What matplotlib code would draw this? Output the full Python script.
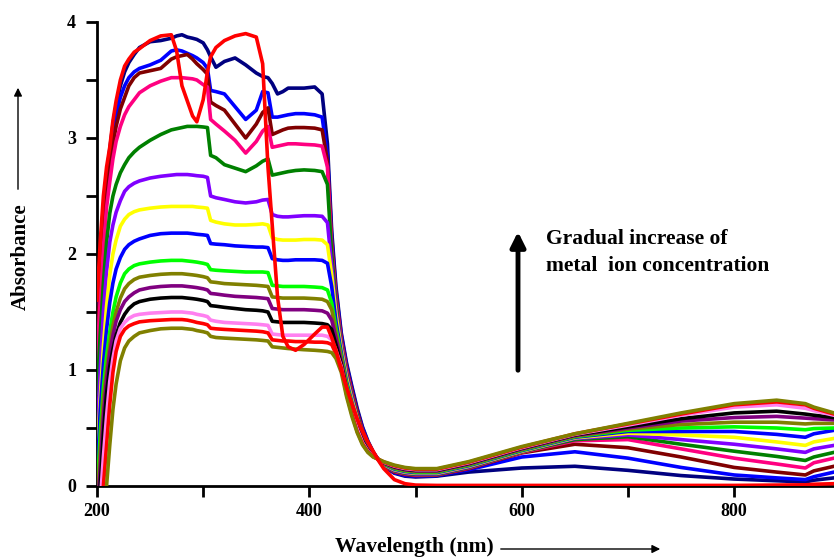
import matplotlib
matplotlib.use('Agg')
import matplotlib.pyplot as plt
from matplotlib.ticker import MultipleLocator

# ---------------- data ----------------
wavelength = [200, 203, 206, 209, 212, 215, 218, 222, 226, 230,
              235, 240, 250, 260, 270, 275, 280, 285, 290, 294,
              300, 304, 307, 312, 320, 330, 340, 350, 356, 361,
              365, 370, 375, 380, 387, 395, 405, 412, 417, 421,
              425, 430, 435, 440, 445, 450, 455, 460, 465, 470,
              480, 490, 500, 520, 550, 600, 650, 700, 750, 800,
              840, 867, 875, 894]

olive_1 = [-0.70, -0.45, -0.20, 0.00, 0.35, 0.66, 0.88, 1.08, 1.19, 1.25,
           1.29, 1.32, 1.34, 1.355, 1.36, 1.36, 1.36, 1.355, 1.35, 1.34,
           1.33, 1.32, 1.29, 1.28, 1.275, 1.27, 1.265, 1.26, 1.255, 1.25,
           1.20, 1.195, 1.19, 1.185, 1.18, 1.175, 1.17, 1.165, 1.16, 1.15,
           1.10, 0.98, 0.77, 0.60, 0.46, 0.355, 0.29, 0.25, 0.23, 0.21,
           0.18, 0.16, 0.15, 0.15, 0.21, 0.34, 0.45, 0.54, 0.63, 0.71,
           0.74, 0.71, 0.68, 0.63]

red_2 = [-0.60, -0.30, 0.00, 0.35, 0.70, 0.98, 1.16, 1.29, 1.35, 1.38,
         1.40, 1.415, 1.425, 1.43, 1.435, 1.435, 1.435, 1.43, 1.42, 1.41,
         1.40, 1.39, 1.36, 1.355, 1.35, 1.345, 1.34, 1.335, 1.33, 1.32,
         1.26, 1.255, 1.25, 1.25, 1.245, 1.245, 1.24, 1.24, 1.235, 1.22,
         1.14, 1.02, 0.79, 0.62, 0.47, 0.365, 0.295, 0.253, 0.23, 0.207,
         0.175, 0.155, 0.145, 0.145, 0.205, 0.335, 0.45, 0.535, 0.62, 0.70,
         0.725, 0.70, 0.67, 0.62]

pink_3 = [-0.50, -0.15, 0.25, 0.60, 0.90, 1.10, 1.25, 1.36, 1.41, 1.445,
          1.47, 1.48, 1.49, 1.495, 1.50, 1.50, 1.50, 1.495, 1.49, 1.48,
          1.47, 1.46, 1.43, 1.42, 1.41, 1.405, 1.40, 1.395, 1.39, 1.385,
          1.31, 1.305, 1.30, 1.30, 1.30, 1.30, 1.30, 1.30, 1.29, 1.26,
          1.17, 1.03, 0.80, 0.63, 0.49, 0.375, 0.30, 0.256, 0.23, 0.204,
          0.171, 0.15, 0.14, 0.14, 0.20, 0.33, 0.445, 0.525, 0.61, 0.68,
          0.70, 0.67, 0.65, 0.61]

black_4 = [-0.40, 0.00, 0.45, 0.80, 1.03, 1.18, 1.30, 1.41, 1.48, 1.53,
           1.57, 1.59, 1.61, 1.62, 1.625, 1.625, 1.625, 1.62, 1.615, 1.61,
           1.60, 1.59, 1.555, 1.55, 1.54, 1.53, 1.52, 1.515, 1.51, 1.50,
           1.42, 1.415, 1.41, 1.41, 1.41, 1.41, 1.405, 1.40, 1.39, 1.35,
           1.22, 1.05, 0.82, 0.65, 0.50, 0.385, 0.305, 0.259, 0.229, 0.201,
           0.166, 0.145, 0.135, 0.135, 0.195, 0.325, 0.44, 0.51, 0.58, 0.63,
           0.645, 0.62, 0.61, 0.59]

purple_5 = [-0.30, 0.15, 0.60, 0.92, 1.15, 1.30, 1.42, 1.52, 1.59, 1.63,
            1.665, 1.69, 1.71, 1.72, 1.725, 1.725, 1.725, 1.72, 1.715, 1.71,
            1.70, 1.69, 1.66, 1.655, 1.645, 1.635, 1.63, 1.625, 1.62, 1.615,
            1.53, 1.525, 1.52, 1.52, 1.52, 1.52, 1.515, 1.51, 1.49, 1.43,
            1.28, 1.07, 0.84, 0.67, 0.52, 0.395, 0.315, 0.262, 0.229, 0.198,
            0.161, 0.14, 0.13, 0.13, 0.19, 0.32, 0.435, 0.50, 0.56, 0.59,
            0.60, 0.585, 0.58, 0.57]

olive_6 = [-0.20, 0.30, 0.75, 1.00, 1.22, 1.38, 1.50, 1.62, 1.70, 1.745,
           1.78, 1.80, 1.815, 1.825, 1.83, 1.83, 1.83, 1.825, 1.82, 1.815,
           1.805, 1.795, 1.76, 1.755, 1.745, 1.74, 1.735, 1.73, 1.725, 1.72,
           1.63, 1.625, 1.62, 1.62, 1.62, 1.62, 1.615, 1.61, 1.59, 1.52,
           1.32, 1.10, 0.86, 0.69, 0.53, 0.41, 0.32, 0.265, 0.228, 0.195,
           0.156, 0.135, 0.125, 0.125, 0.185, 0.315, 0.43, 0.49, 0.53, 0.55,
           0.55, 0.535, 0.54, 0.54]

lime_7 = [-0.10, 0.45, 0.85, 1.12, 1.33, 1.50, 1.63, 1.75, 1.83, 1.87,
          1.90, 1.915, 1.93, 1.94, 1.945, 1.945, 1.945, 1.94, 1.935, 1.93,
          1.92, 1.91, 1.865, 1.86, 1.855, 1.85, 1.845, 1.845, 1.845, 1.84,
          1.73, 1.725, 1.72, 1.72, 1.72, 1.72, 1.715, 1.71, 1.69, 1.58,
          1.36, 1.12, 0.88, 0.71, 0.55, 0.42, 0.325, 0.268, 0.228, 0.192,
          0.151, 0.13, 0.12, 0.12, 0.18, 0.31, 0.425, 0.48, 0.50, 0.51,
          0.50, 0.485, 0.495, 0.50]

blue_8 = [0.05, 0.65, 1.05, 1.35, 1.58, 1.75, 1.87, 1.97, 2.04, 2.08,
          2.11, 2.13, 2.16, 2.175, 2.18, 2.18, 2.18, 2.18, 2.175, 2.17,
          2.165, 2.16, 2.09, 2.085, 2.08, 2.07, 2.065, 2.06, 2.06, 2.055,
          1.96, 1.95, 1.945, 1.945, 1.95, 1.95, 1.95, 1.945, 1.92, 1.72,
          1.42, 1.15, 0.90, 0.72, 0.56, 0.43, 0.335, 0.271, 0.227, 0.189,
          0.146, 0.125, 0.115, 0.115, 0.175, 0.305, 0.42, 0.47, 0.47, 0.47,
          0.445, 0.42, 0.45, 0.48]

yellow_9 = [0.20, 0.75, 1.20, 1.55, 1.82, 2.00, 2.12, 2.24, 2.30, 2.34,
            2.365, 2.38, 2.395, 2.405, 2.41, 2.41, 2.41, 2.41, 2.41, 2.405,
            2.40, 2.395, 2.29, 2.275, 2.26, 2.25, 2.25, 2.255, 2.26, 2.25,
            2.14, 2.125, 2.12, 2.12, 2.12, 2.125, 2.125, 2.12, 2.08, 1.82,
            1.48, 1.18, 0.93, 0.74, 0.58, 0.44, 0.34, 0.274, 0.227, 0.186,
            0.141, 0.12, 0.11, 0.11, 0.17, 0.30, 0.415, 0.455, 0.44, 0.42,
            0.38, 0.35, 0.38, 0.41]

violet_10 = [0.42, 1.00, 1.50, 1.85, 2.10, 2.25, 2.36, 2.46, 2.54, 2.58,
             2.61, 2.63, 2.655, 2.67, 2.68, 2.685, 2.685, 2.685, 2.68, 2.675,
             2.67, 2.66, 2.50, 2.485, 2.47, 2.45, 2.44, 2.45, 2.465, 2.47,
             2.34, 2.325, 2.32, 2.32, 2.325, 2.33, 2.33, 2.325, 2.27, 1.90,
             1.52, 1.20, 0.95, 0.76, 0.59, 0.45, 0.345, 0.277, 0.226, 0.183,
             0.136, 0.115, 0.105, 0.105, 0.165, 0.30, 0.41, 0.44, 0.40, 0.36,
             0.32, 0.29, 0.32, 0.35]

green_11 = [0.80, 1.30, 1.75, 2.10, 2.35, 2.50, 2.60, 2.70, 2.77, 2.83,
            2.88, 2.92, 2.98, 3.03, 3.07, 3.08, 3.09, 3.10, 3.10, 3.10,
            3.095, 3.09, 2.85, 2.83, 2.77, 2.74, 2.71, 2.76, 2.80, 2.82,
            2.68, 2.69, 2.70, 2.71, 2.72, 2.725, 2.72, 2.71, 2.60, 2.00,
            1.57, 1.22, 0.97, 0.78, 0.61, 0.465, 0.355, 0.28, 0.226, 0.18,
            0.131, 0.11, 0.10, 0.10, 0.16, 0.295, 0.40, 0.425, 0.36, 0.30,
            0.255, 0.22, 0.25, 0.29]

pink_12 = [1.10, 1.60, 2.05, 2.40, 2.62, 2.82, 2.97, 3.10, 3.20, 3.27,
           3.33, 3.39, 3.45, 3.49, 3.52, 3.52, 3.52, 3.515, 3.51, 3.50,
           3.46, 3.44, 3.16, 3.12, 3.06, 2.98, 2.87, 2.97, 3.06, 3.10,
           2.92, 2.93, 2.94, 2.95, 2.95, 2.945, 2.94, 2.93, 2.75, 2.05,
           1.62, 1.25, 1.00, 0.80, 0.62, 0.475, 0.36, 0.284, 0.225, 0.178,
           0.126, 0.105, 0.095, 0.097, 0.155, 0.29, 0.39, 0.40, 0.32, 0.24,
           0.19, 0.155, 0.20, 0.24]

maroon_13 = [1.25, 1.75, 2.20, 2.50, 2.75, 2.95, 3.10, 3.25, 3.35, 3.45,
             3.52, 3.56, 3.58, 3.60, 3.68, 3.70, 3.71, 3.72, 3.68, 3.64,
             3.59, 3.55, 3.31, 3.28, 3.24, 3.12, 3.00, 3.12, 3.22, 3.26,
             3.03, 3.05, 3.07, 3.085, 3.09, 3.09, 3.085, 3.07, 2.80, 2.10,
             1.65, 1.27, 1.02, 0.82, 0.64, 0.485, 0.37, 0.287, 0.225, 0.176,
             0.121, 0.10, 0.09, 0.094, 0.15, 0.285, 0.36, 0.33, 0.25, 0.16,
             0.12, 0.095, 0.13, 0.17]

blue_14 = [1.35, 1.85, 2.30, 2.60, 2.85, 3.05, 3.20, 3.35, 3.45, 3.52,
           3.57, 3.60, 3.63, 3.67, 3.75, 3.76, 3.75, 3.73, 3.71, 3.69,
           3.65, 3.60, 3.41, 3.40, 3.38, 3.27, 3.16, 3.24, 3.40, 3.39,
           3.18, 3.18, 3.19, 3.20, 3.21, 3.21, 3.20, 3.18, 2.85, 2.15,
           1.68, 1.30, 1.04, 0.84, 0.65, 0.50, 0.38, 0.291, 0.225, 0.173,
           0.115, 0.092, 0.084, 0.09, 0.14, 0.25, 0.295, 0.24, 0.16, 0.095,
           0.07, 0.055, 0.08, 0.12]

navy_15 = [1.50, 2.00, 2.40, 2.68, 2.90, 3.12, 3.28, 3.45, 3.57, 3.65,
           3.72, 3.78, 3.83, 3.84, 3.86, 3.88, 3.89, 3.87, 3.86, 3.85,
           3.82, 3.76, 3.70, 3.61, 3.66, 3.69, 3.63, 3.56, 3.53, 3.52,
           3.47, 3.38, 3.40, 3.43, 3.43, 3.43, 3.44, 3.38, 2.95, 2.20,
           1.72, 1.32, 1.06, 0.86, 0.67, 0.51, 0.39, 0.295, 0.225, 0.17,
           0.11, 0.085, 0.078, 0.085, 0.12, 0.155, 0.17, 0.135, 0.09, 0.06,
           0.045, 0.035, 0.05, 0.07]

red_16 = [1.60, 2.10, 2.50, 2.75, 2.92, 3.15, 3.32, 3.50, 3.62, 3.68,
          3.74, 3.77, 3.84, 3.88, 3.89, 3.75, 3.45, 3.32, 3.19, 3.14,
          3.33, 3.57, 3.70, 3.78, 3.84, 3.88, 3.90, 3.87, 3.64, 2.75,
          2.25, 1.63, 1.29, 1.20, 1.17, 1.22, 1.31, 1.37, 1.37, 1.28,
          1.17, 1.00, 0.85, 0.71, 0.58, 0.47, 0.38, 0.30, 0.22, 0.15,
          0.055, 0.02, 0.008, 0.005, 0.005, 0.005, 0.005, 0.005, 0.005, 0.005,
          0.008, 0.01, 0.015, 0.02]

# drawing order: back to front
series = [navy_15, blue_14, maroon_13, pink_12, green_11, violet_10, yellow_9,
          blue_8, lime_7, olive_6, purple_5, black_4, pink_3, red_2, olive_1, red_16]
colors = ['#000080', '#0000FF', '#800000', '#FF0080', '#008000', '#8000FF', '#FFFF00',
          '#0000FF', '#00FF00', '#808000', '#800080', '#000000', '#FF80F0', '#FF0000',
          '#808000', '#FF0000']

x_ticks = [200, 400, 600, 800]
y_ticks = [0, 1, 2, 3, 4]

# ---------------- figure ----------------
plt.rcParams['font.family'] = ['Liberation Serif', 'DejaVu Serif']
plt.rcParams['font.weight'] = 'bold'

W, H = 834, 557
fig = plt.figure(figsize=(W / 100, H / 100), dpi=100)
ax = fig.add_axes([97 / W, (H - 486) / H, (W - 97) / W, (486 - 22) / H])

for vals, c in zip(series, colors):
    ax.plot(wavelength, vals, color=c, lw=2.6, solid_joinstyle='round',
            solid_capstyle='round', zorder=3)

ax.set_xlim(200, 894)
ax.set_ylim(0, 4)
for s in ('top', 'right'):
    ax.spines[s].set_visible(False)
for s in ('left', 'bottom'):
    ax.spines[s].set_linewidth(2)

ax.set_xticks(x_ticks)
ax.set_yticks(y_ticks)
ax.xaxis.set_minor_locator(MultipleLocator(100))
ax.yaxis.set_minor_locator(MultipleLocator(0.5))
ax.tick_params(which='both', direction='out', length=8, width=2, labelsize=13)
ax.tick_params(axis='y', which='both', pad=7)
ax.tick_params(axis='x', which='both', pad=4)
for lab in ax.get_xticklabels() + ax.get_yticklabels():
    lab.set_fontweight('bold')


def fx(px):
    return px / W


def fy(py):
    return 1 - py / H


# axis labels with arrows
fig.text(fx(21), fy(257), 'Absorbance', rotation=90, ha='center', va='center',
         fontsize=15, fontweight='bold')
fig.patches.append(matplotlib.patches.FancyArrowPatch(
    (fx(18), fy(192)), (fx(18), fy(85)), transform=fig.transFigure,
    arrowstyle='-|>', mutation_scale=12, lw=1, color='black'))

fig.text(fx(335), fy(552), 'Wavelength (nm)', ha='left', va='baseline',
         fontsize=15.5, fontweight='bold')
fig.patches.append(matplotlib.patches.FancyArrowPatch(
    (fx(498), fy(549)), (fx(663), fy(549)), transform=fig.transFigure,
    arrowstyle='-|>', mutation_scale=12, lw=1, color='black'))

# annotation
fig.patches.append(matplotlib.patches.FancyArrowPatch(
    (fx(518), fy(373)), (fx(518), fy(229)), transform=fig.transFigure,
    arrowstyle='-|>', mutation_scale=22, lw=3.5, color='black'))
fig.text(fx(546), fy(244), 'Gradual increase of', ha='left', va='baseline',
         fontsize=15.5, fontweight='bold')
fig.text(fx(546), fy(271), 'metal  ion concentration', ha='left', va='baseline',
         fontsize=15.5, fontweight='bold')

fig.savefig('out.png', dpi=100)
